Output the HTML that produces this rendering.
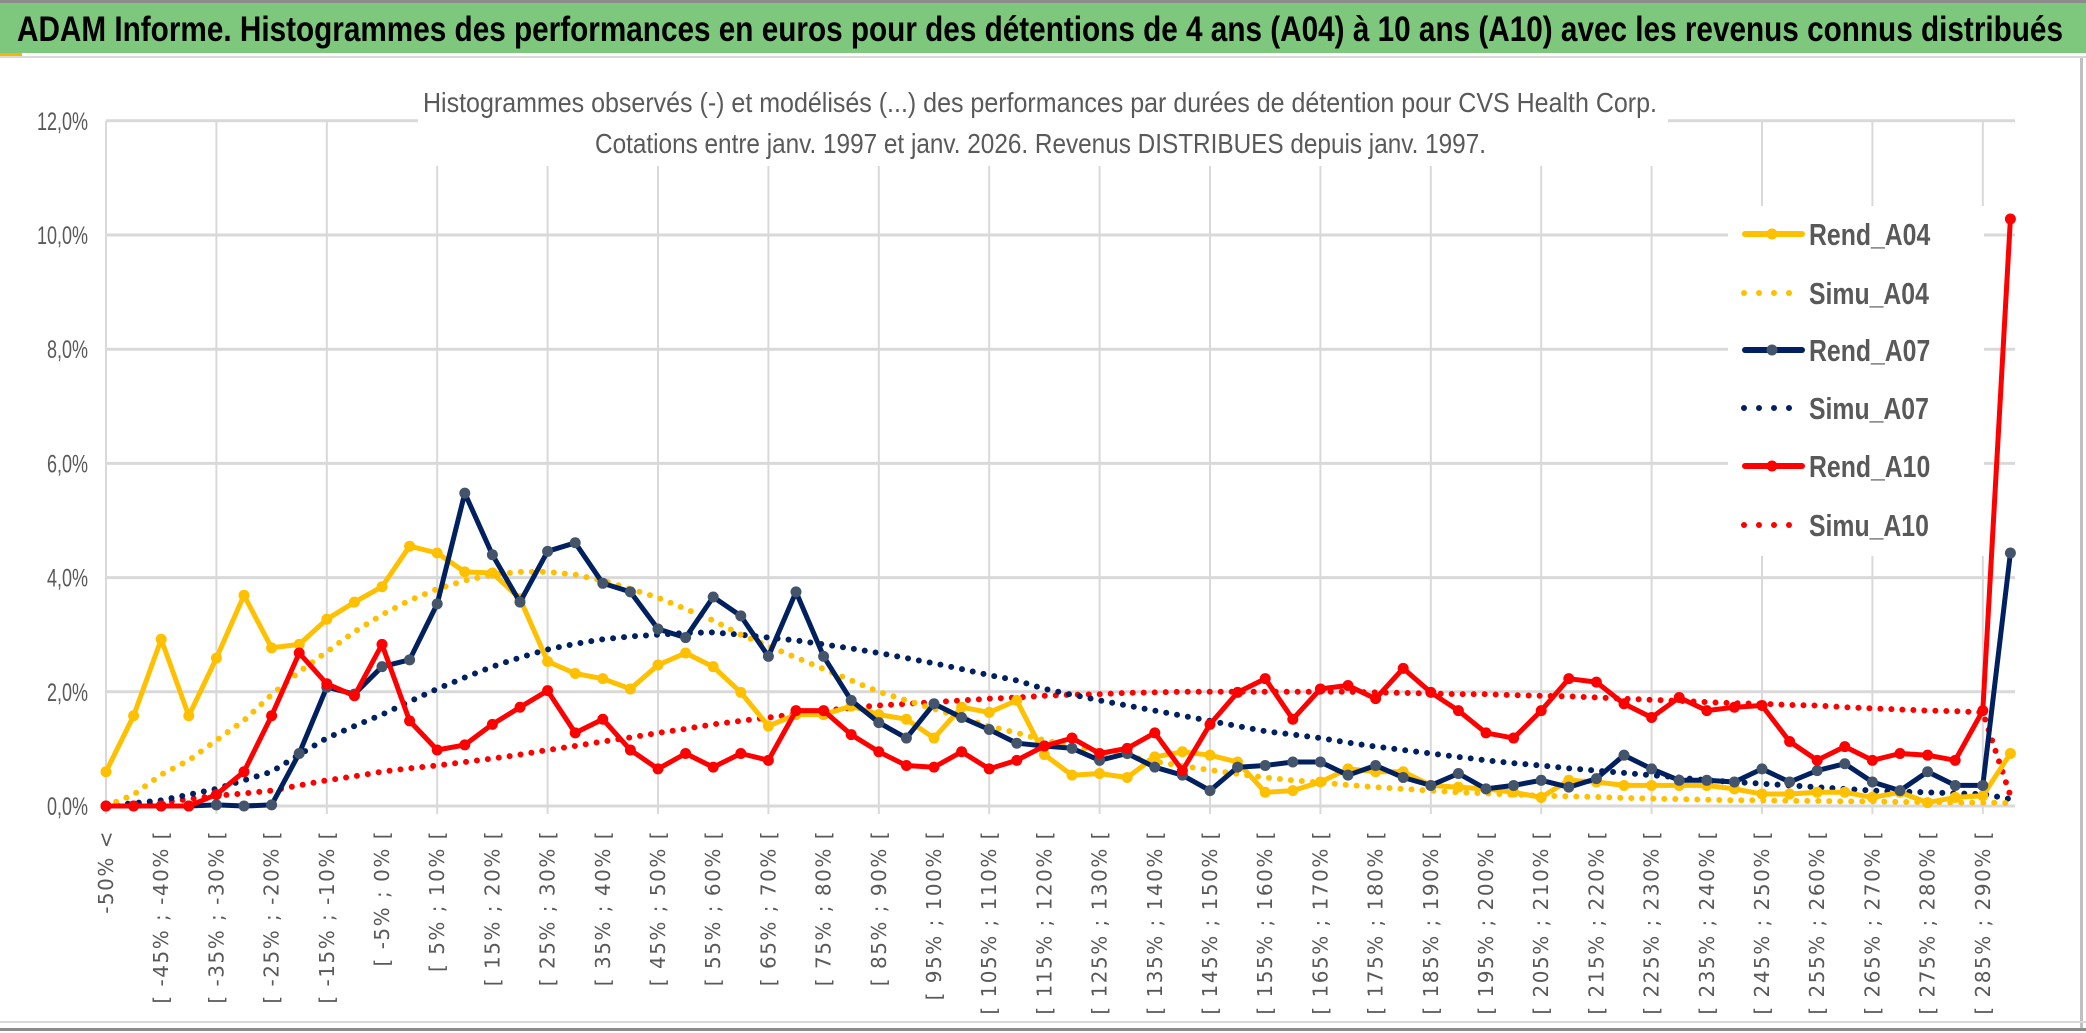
<!DOCTYPE html>
<html><head><meta charset="utf-8"><style>
html,body{margin:0;padding:0;background:#fff;}
#wrap{position:relative;width:2086px;height:1033px;overflow:hidden;background:#fff;}
svg text{font-family:"Liberation Sans",sans-serif;}
</style></head><body>
<div id="wrap">
<svg id="chart" width="2086" height="1033" xmlns="http://www.w3.org/2000/svg">
  <rect x="0" y="0" width="2086" height="1033" fill="#fff"/>
  <rect x="0" y="0" width="2086" height="3" fill="#8c8c8c"/>
  <rect x="0" y="3" width="2086" height="50" fill="#7dc87d"/>
  <rect x="0" y="53" width="22" height="4" fill="#f5b800"/>
  <rect x="0" y="56" width="2086" height="2" fill="#d9d9d9"/>
  <text x="17" y="41" font-size="35" font-weight="bold" fill="#000" textLength="2046" lengthAdjust="spacingAndGlyphs">ADAM Informe. Histogrammes des performances en euros pour des détentions de 4 ans (A04) à 10 ans (A10) avec les revenus connus distribués</text>
  <rect x="2080" y="58" width="3" height="970" fill="#bfbfbf"/>
  <rect x="0" y="1021" width="2086" height="2" fill="#d9d9d9"/>
  <rect x="0" y="1028" width="2086" height="3" fill="#8c8c8c"/>
  <g id="grid"></g>
  <g id="yaxis"></g>
  <g id="xaxis"></g>
  <rect x="418" y="80" width="1250" height="86" fill="#fff"/>
  <text x="423" y="112" font-size="28" fill="#595959" textLength="1234" lengthAdjust="spacingAndGlyphs">Histogrammes observés (-) et modélisés (...) des performances par durées de détention pour CVS Health Corp.</text>
  <text x="595" y="153" font-size="28" fill="#595959" textLength="891" lengthAdjust="spacingAndGlyphs">Cotations entre janv. 1997 et janv. 2026. Revenus DISTRIBUES depuis janv. 1997.</text>
  <rect x="1728" y="206" width="256" height="350" fill="#fff"/>
  <g id="series"></g>
  <g id="legend"></g>
</svg>
</div>
<script>
const categories = (function(){ const c=["-50% <"]; for(let a=-50;a<=290;a+=5){ c.push("[ "+a+"% ; "+(a+5)+"% ["); } return c; })().slice(0,70);
const yTicks = [0,2,4,6,8,10,12];
const yTickLabels = ["0,0%","2,0%","4,0%","6,0%","8,0%","10,0%","12,0%"];
const rendA04 = [0.6,1.58,2.92,1.58,2.59,3.69,2.77,2.83,3.27,3.57,3.84,4.55,4.43,4.1,4.08,3.63,2.53,2.32,2.23,2.05,2.47,2.68,2.44,1.99,1.4,1.6,1.6,1.75,1.6,1.52,1.19,1.73,1.64,1.85,0.9,0.54,0.57,0.5,0.86,0.95,0.89,0.77,0.24,0.27,0.42,0.65,0.6,0.6,0.36,0.33,0.3,0.24,0.15,0.45,0.42,0.36,0.36,0.36,0.36,0.3,0.21,0.21,0.24,0.24,0.15,0.24,0.06,0.15,0.18,0.92];
const simuA04 = [0,0.2,0.55,0.8,1.15,1.5,1.95,2.35,2.7,3.05,3.35,3.6,3.8,3.95,4.05,4.1,4.1,4.05,3.95,3.8,3.65,3.45,3.25,3.0,2.8,2.6,2.4,2.2,2.0,1.85,1.7,1.55,1.4,1.28,1.15,1.05,0.95,0.87,0.78,0.7,0.63,0.56,0.5,0.45,0.41,0.37,0.33,0.3,0.27,0.24,0.22,0.2,0.18,0.17,0.16,0.14,0.13,0.12,0.11,0.1,0.1,0.09,0.09,0.08,0.08,0.07,0.07,0.06,0.06,0.05];
const rendA07 = [0,0,0,0,0.02,0,0.02,0.92,2.08,1.96,2.44,2.56,3.54,5.48,4.4,3.57,4.46,4.61,3.9,3.75,3.1,2.95,3.66,3.33,2.62,3.75,2.62,1.85,1.46,1.19,1.79,1.55,1.34,1.1,1.05,1.01,0.8,0.92,0.68,0.54,0.27,0.68,0.71,0.77,0.77,0.54,0.71,0.5,0.36,0.57,0.3,0.36,0.45,0.33,0.48,0.89,0.65,0.45,0.45,0.42,0.65,0.42,0.62,0.74,0.42,0.27,0.6,0.36,0.36,4.43];
const simuA07 = [0,0.05,0.1,0.2,0.3,0.45,0.6,0.9,1.19,1.4,1.6,1.83,2.05,2.25,2.44,2.6,2.74,2.84,2.92,2.97,3.0,3.03,3.04,3.0,2.95,2.9,2.83,2.76,2.68,2.59,2.5,2.4,2.29,2.2,2.05,1.95,1.85,1.76,1.67,1.58,1.49,1.4,1.31,1.25,1.19,1.11,1.04,0.98,0.92,0.86,0.8,0.75,0.71,0.66,0.62,0.58,0.54,0.5,0.45,0.42,0.39,0.36,0.33,0.3,0.27,0.25,0.24,0.22,0.21,0.12];
const rendA10 = [0,0,0,0,0.2,0.6,1.58,2.68,2.14,1.93,2.83,1.49,0.98,1.07,1.43,1.73,2.02,1.28,1.52,0.98,0.65,0.92,0.68,0.92,0.8,1.67,1.67,1.25,0.95,0.71,0.68,0.95,0.65,0.8,1.05,1.19,0.92,1.01,1.28,0.62,1.43,1.99,2.23,1.52,2.05,2.11,1.88,2.41,1.99,1.67,1.28,1.19,1.67,2.23,2.17,1.79,1.55,1.9,1.67,1.73,1.76,1.13,0.8,1.04,0.8,0.92,0.89,0.8,1.67,10.28];
const simuA10 = [0,0.02,0.06,0.12,0.18,0.22,0.27,0.36,0.45,0.52,0.6,0.66,0.71,0.77,0.83,0.9,0.98,1.05,1.13,1.2,1.28,1.35,1.43,1.49,1.55,1.61,1.67,1.72,1.76,1.79,1.82,1.85,1.88,1.9,1.93,1.95,1.96,1.98,1.99,2.0,2.0,2.0,2.0,2.0,2.0,2.0,1.99,1.98,1.97,1.96,1.96,1.94,1.93,1.92,1.9,1.88,1.86,1.84,1.82,1.8,1.79,1.77,1.76,1.73,1.71,1.69,1.67,1.66,1.64,0.18];

const NS="http://www.w3.org/2000/svg";
const X0=106, DX=27.6, Y0=806, PY=57.1;
function xs(i){ return X0 + DX*i; }
function ys(v){ return Y0 - PY*v; }
function mk(tag, attrs, parent){ const e=document.createElementNS(NS,tag); for(const k in attrs) e.setAttribute(k,attrs[k]); parent.appendChild(e); return e; }

const grid=document.getElementById('grid');
for(let t=0;t<yTicks.length;t++){
  const l=mk('line',{x1:X0,x2:2015,y1:ys(yTicks[t]),y2:ys(yTicks[t]),stroke:'#d9d9d9','stroke-width':3},grid);
  
  
}
for(let i=0;i<categories.length;i+=4){
  const l=mk('line',{x1:xs(i),x2:xs(i),y1:ys(12),y2:ys(0)+8,stroke:'#d9d9d9','stroke-width':2},grid);
  
  
}
const yax=document.getElementById('yaxis');
for(let t=0;t<yTicks.length;t++){
  const tx=mk('text',{x:0,y:0,'font-size':25,fill:'#595959','text-anchor':'end',transform:'translate(88,'+(ys(yTicks[t])+9)+') scale(0.72,1)'},yax);
  tx.textContent=yTickLabels[t];
  
  
}
const xax=document.getElementById('xaxis');
for(let i=0;i<categories.length;i+=2){
  const tx=mk('text',{x:0,y:0,'font-size':20,fill:'#595959','text-anchor':'end','letter-spacing':'1.5',transform:'translate('+(xs(i)+7)+',830) rotate(-90)',style:'font-family:"DejaVu Sans",sans-serif'},xax);
  tx.textContent=categories[i];
  
  
}
const ser=document.getElementById('series');
function pts(arr){ return arr.map((v,i)=>xs(i).toFixed(1)+','+ys(v).toFixed(1)).join(' '); }
function dotted(arr,color,name){
  const p=mk('polyline',{points:pts(arr),fill:'none',stroke:color,'stroke-width':6,'stroke-linecap':'round','stroke-dasharray':'0 11'},ser);
  
  
}
function solid(arr,color,mcolor,name){
  const p=mk('polyline',{points:pts(arr),fill:'none',stroke:color,'stroke-width':5,'stroke-linejoin':'round'},ser);
  
  
  arr.forEach((v,i)=>{
    const c=mk('circle',{cx:xs(i),cy:ys(v),r:5.5,fill:mcolor},ser);
    
    
  });
}
dotted(simuA10,'#ff0000','simu-a10-line');
dotted(simuA07,'#002060','simu-a07-line');
dotted(simuA04,'#ffc000','simu-a04-line');
solid(rendA04,'#ffc000','#ffc000','rend-a04-line');
solid(rendA07,'#002060','#44546a','rend-a07-line');
solid(rendA10,'#ff0000','#ff0000','rend-a10-line');

const leg=document.getElementById('legend');
const legendNames=["Rend_A04","Simu_A04","Rend_A07","Simu_A07","Rend_A10","Simu_A10"];
const legendColors=["#ffc000","#ffc000","#002060","#002060","#ff0000","#ff0000"];
const legendMarker=["#ffc000",null,"#44546a",null,"#ff0000",null];
const legendY=[234,293,350,408,466,525];
for(let k=0;k<6;k++){
  const y=legendY[k];
  if(legendMarker[k]){
    const l=mk('line',{x1:1745,x2:1802,y1:y,y2:y,stroke:legendColors[k],'stroke-width':6,'stroke-linecap':'round'},leg);
    
    
    const c=mk('circle',{cx:1772,cy:y,r:5.5,fill:legendMarker[k]},leg);
    
    
  } else {
    const l=mk('line',{x1:1744,x2:1790,y1:y,y2:y,stroke:legendColors[k],'stroke-width':6,'stroke-linecap':'round','stroke-dasharray':'0 15'},leg);
    
    
  }
  const t=mk('text',{x:0,y:0,'font-size':31,'font-weight':'bold',fill:'#595959',transform:'translate(1809,'+(y+11)+') scale(0.8,1)'},leg);
  t.textContent=legendNames[k];
  
  
}
</script>
</body></html>
